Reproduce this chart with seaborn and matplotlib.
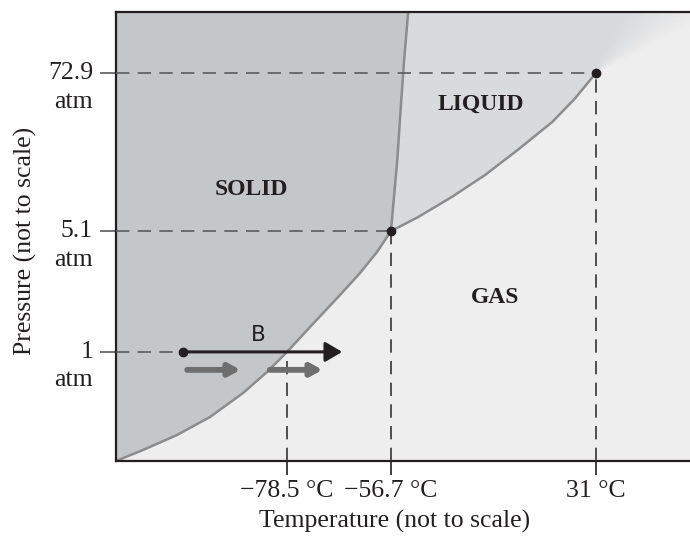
import numpy as np
import matplotlib
matplotlib.use("Agg")
import matplotlib.pyplot as plt
import seaborn as sns

# phase boundaries (arbitrary "not to scale" units, 0-100)
sub_t = [0, 4.70, 10.63, 16.38, 22.13, 26.31, 29.8, 33.80, 39.02, 42.51, 45.47, 47.9]
sub_p = [0, 2.45, 5.79, 9.80, 15.14, 19.82, 24.3, 29.84, 36.97, 41.87, 46.55, 51.2]
melt_t = [47.9, 49.0, 49.7, 50.2, 50.9]
melt_p = [51.2, 67.0, 80.4, 89.3, 100]
vap_t = [47.9, 52.6, 58.5, 64.3, 70.0, 76.0, 80.0, 83.6]
vap_p = [51.2, 54.3, 58.8, 63.7, 69.3, 75.5, 80.8, 86.4]

# special points
triple = (47.9, 51.2)
critical = (83.6, 86.4)
sublim = (29.8, 24.3)
b_start = (11.7, 24.3)
b_end = 39.4

# tick positions / labels
p_pos = [86.4, 51.2, 24.3]
p_labels = ["72.9", "5.1", "1"]
t_pos = [29.8, 47.9, 83.6]
t_labels = ["\u221278.5 \u00b0C", "\u221256.7 \u00b0C", "31 \u00b0C"]

region_names = ["SOLID", "LIQUID", "GAS"]
region_t = [23.5, 63.5, 66.0]
region_p = [60.5, 79.5, 36.5]

sns.set_theme(style="white")
plt.rcParams["font.family"] = ["Liberation Serif", "DejaVu Serif"]

c_solid = "#c5c6c8"
c_liquid = "#d9dadc"
c_gas = "#eeeeee"
c_curve = "#8c8c8c"
c_dash = "#5a5a5a"
c_ink = "#231f20"
fs = 18.5

fig = plt.figure(figsize=(6.9, 5.39), dpi=100)
ax = fig.add_axes([116 / 690, 78 / 539, 585 / 690, 449 / 539])
ax.set_xlim(0, 585 / 5.74)
ax.set_ylim(0, 100)
ax.set_facecolor(c_gas)

# region fills
solid_x = sub_t + melt_t[1:] + [0]
solid_y = sub_p + melt_p[1:] + [100]
ax.fill(solid_x, solid_y, color=c_solid, lw=0, zorder=0)

top_edge = 89.5
liq_x = melt_t + [top_edge] + vap_t[::-1]
liq_y = melt_p + [100] + vap_p[::-1]
ax.fill(liq_x, liq_y, color=c_liquid, lw=0, zorder=0)

# soft fade beyond the critical point
edges = np.linspace(top_edge, 104, 14)
c1 = np.array(matplotlib.colors.to_rgb(c_liquid))
c2 = np.array(matplotlib.colors.to_rgb(c_gas))
for i in range(len(edges) - 1):
    f = (i + 1) / len(edges)
    col = c1 * (1 - f) + c2 * f
    ax.fill([critical[0], edges[i], edges[i + 1]], [critical[1], 100, 100],
            color=col, lw=0.3, ec=col, zorder=0)

# boundaries
for xs, ys in [(sub_t, sub_p), (melt_t, melt_p), (vap_t, vap_p)]:
    sns.lineplot(x=xs, y=ys, sort=False, estimator=None, color=c_curve,
                 lw=1.8, ax=ax, zorder=2)

# dashed guides
dash = dict(color=c_dash, lw=1.2, dashes=(8, 5), zorder=3)
ax.plot([0, critical[0]], [critical[1]] * 2, **dash)
ax.plot([0, triple[0]], [triple[1]] * 2, **dash)
ax.plot([0, b_start[0]], [b_start[1]] * 2, **dash)
vdash = dict(color="#333333", lw=1.2, dashes=(8, 5), zorder=3)
ax.plot([critical[0]] * 2, [0, critical[1]], **vdash)
ax.plot([triple[0]] * 2, [0, triple[1]], **vdash)
ax.plot([sublim[0]] * 2, [0, sublim[1]], **vdash)

# arrow B
ax.annotate("", xy=(b_end, b_start[1]), xytext=b_start,
            arrowprops=dict(arrowstyle="-|>,head_length=0.85,head_width=0.5",
                            color=c_ink, lw=2.2, shrinkA=0, shrinkB=0),
            zorder=4)
ax.text(24.8, 28.0, "B", fontsize=15.5, family="DejaVu Sans", color=c_ink,
        ha="center", va="center")
for x0, x1 in [(12.4, 21.7), (26.8, 36.0)]:
    ax.annotate("", xy=(x1, 20.3), xytext=(x0, 20.3),
                arrowprops=dict(arrowstyle="-|>,head_length=0.55,head_width=0.3",
                                color="#6e6e6e", lw=4.2, shrinkA=0, shrinkB=0),
                zorder=4)

# points
ax.plot([b_start[0], triple[0], critical[0]], [b_start[1], triple[1], critical[1]],
        "o", color=c_ink, ms=6, zorder=5)

for name, x, y in zip(region_names, region_t, region_p):
    ax.text(x, y, name, fontsize=17, fontweight="bold", color=c_ink,
            ha="center", va="center")

# axes
ax.set_yticks(p_pos)
ax.set_yticklabels([])
ax.tick_params(axis="y", length=11.5, width=1.2, color=c_dash, left=True)
for v, y in zip(p_labels, p_pos):
    ax.annotate(v, xy=(0, y), xycoords=("axes fraction", "data"),
                xytext=(-16.5, 0), textcoords="offset points",
                ha="right", va="center", fontsize=fs, color=c_ink)
    ax.annotate("atm", xy=(0, y), xycoords=("axes fraction", "data"),
                xytext=(-16.5, -20.5), textcoords="offset points",
                ha="right", va="center", fontsize=fs, color=c_ink)

ax.set_xticks(t_pos)
ax.set_xticklabels(t_labels, fontsize=fs, color=c_ink)
ax.tick_params(axis="x", length=10, width=1.2, color=c_ink, pad=4, bottom=True)

for s in ["left", "top", "bottom", "right"]:
    ax.spines[s].set_color(c_ink)
    ax.spines[s].set_linewidth(1.6)

ax.set_xlabel("Temperature (not to scale)", fontsize=fs, color=c_ink)
ax.set_ylabel("Pressure (not to scale)", fontsize=fs, color=c_ink)
ax.xaxis.set_label_coords(279 / 585, -0.11)
ax.yaxis.set_label_coords(-0.135, 0.49)

fig.savefig("out.png", dpi=100, facecolor="white")
